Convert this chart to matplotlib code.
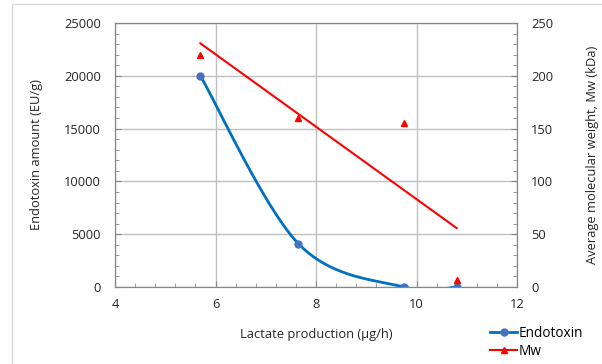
import numpy as np
import matplotlib
matplotlib.use('Agg')
import matplotlib.pyplot as plt
from matplotlib.lines import Line2D
from matplotlib.patches import Rectangle
from matplotlib.ticker import MultipleLocator

plt.rcParams['font.family'] = ['Open Sans', 'DejaVu Sans']

# datos
lactate = [5.7, 7.65, 9.75, 10.8]
endotoxin = [20000, 4100, 0, 0]
mw = [220, 160, 155, 7]


def curva_suave(xs, ys, n=60):
    # suavizado tipo Excel (Bezier con tension 1/6)
    px, py = [], []
    m = len(xs)
    for i in range(m - 1):
        x0, y0 = (xs[i - 1], ys[i - 1]) if i > 0 else (xs[i], ys[i])
        x1, y1 = xs[i], ys[i]
        x2, y2 = xs[i + 1], ys[i + 1]
        x3, y3 = (xs[i + 2], ys[i + 2]) if i + 2 < m else (x2, y2)
        c1 = (x1 + (x2 - x0) / 6, y1 + (y2 - y0) / 6)
        c2 = (x2 - (x3 - x1) / 6, y2 - (y3 - y1) / 6)
        t = np.linspace(0, 1, n)
        bx = (1-t)**3*x1 + 3*(1-t)**2*t*c1[0] + 3*(1-t)*t**2*c2[0] + t**3*x2
        by = (1-t)**3*y1 + 3*(1-t)**2*t*c1[1] + 3*(1-t)*t**2*c2[1] + t**3*y2
        px.extend(bx)
        py.extend(by)
    return px, py


fig = plt.figure(figsize=(6.02, 3.64), dpi=100)
fig.patches.append(Rectangle((12/602, -0.1), 1.0, (360/364) + 0.1, transform=fig.transFigure,
                             fill=False, edgecolor='#d9d9d9', linewidth=1))

ax = fig.add_axes([115/602, 77/364, 402/602, 264/364])
ax2 = ax.twinx()

col_spine = '#868686'
col_grid = '#bfbfbf'
col_text = '#262626'
fs = 9.3

sx, sy = curva_suave(lactate, endotoxin)
ax.plot(sx, sy, color='#0070c0', linewidth=2, zorder=3)
ax.plot(lactate, endotoxin, 'o', color='#4472c4', markersize=5, zorder=4)

a, b = np.polyfit(lactate, mw, 1)
xl = np.array([min(lactate), max(lactate)])
ax2.plot(xl, a * xl + b, color='red', linewidth=1.5)
ax2.plot(lactate, mw, '^', color='red', markersize=5, clip_on=False)

ax.set_xlim(4, 12)
ax.set_ylim(0, 25000)
ax2.set_ylim(0, 250)
ax.xaxis.set_major_locator(MultipleLocator(2))
ax.xaxis.set_minor_locator(MultipleLocator(0.4))
ax.yaxis.set_major_locator(MultipleLocator(5000))
ax.yaxis.set_minor_locator(MultipleLocator(1000))
ax2.yaxis.set_major_locator(MultipleLocator(50))
ax2.yaxis.set_minor_locator(MultipleLocator(10))

ax.grid(True, which='major', color=col_grid, linewidth=1)
ax.set_axisbelow(True)

for a_ in (ax, ax2):
    for s in a_.spines.values():
        s.set_color(col_spine)
    a_.tick_params(which='both', direction='in', colors=col_spine, labelcolor=col_text, labelsize=fs)
    a_.tick_params(which='major', length=4)
    a_.tick_params(which='minor', length=3)
ax.tick_params(axis='x', pad=8)
ax.tick_params(axis='y', pad=10)
ax2.tick_params(axis='y', pad=10)

ax.set_xlabel('Lactate production (µg/h)', fontsize=fs, color=col_text, labelpad=12)
ax.set_ylabel('Endotoxin amount (EU/g)', fontsize=fs, color=col_text, labelpad=15)
ax2.set_ylabel('Average molecular weight, Mw (kDa)', fontsize=fs, color=col_text, labelpad=24)

h1 = Line2D([], [], color='#0070c0', linewidth=2, marker='o', markerfacecolor='#4472c4',
            markeredgecolor='#4472c4', markersize=5)
h2 = Line2D([], [], color='red', linewidth=1.5, marker='^', markersize=5)
fig.legend([h1, h2], ['Endotoxin', 'Mw'], loc='upper left', bbox_to_anchor=(490/602, 1 - 326/364),
           frameon=False, fontsize=fs + 0.5, handlelength=2.0, handletextpad=0.1,
           labelspacing=0.2, borderpad=0, borderaxespad=0)

fig.savefig('out.png', dpi=100)
